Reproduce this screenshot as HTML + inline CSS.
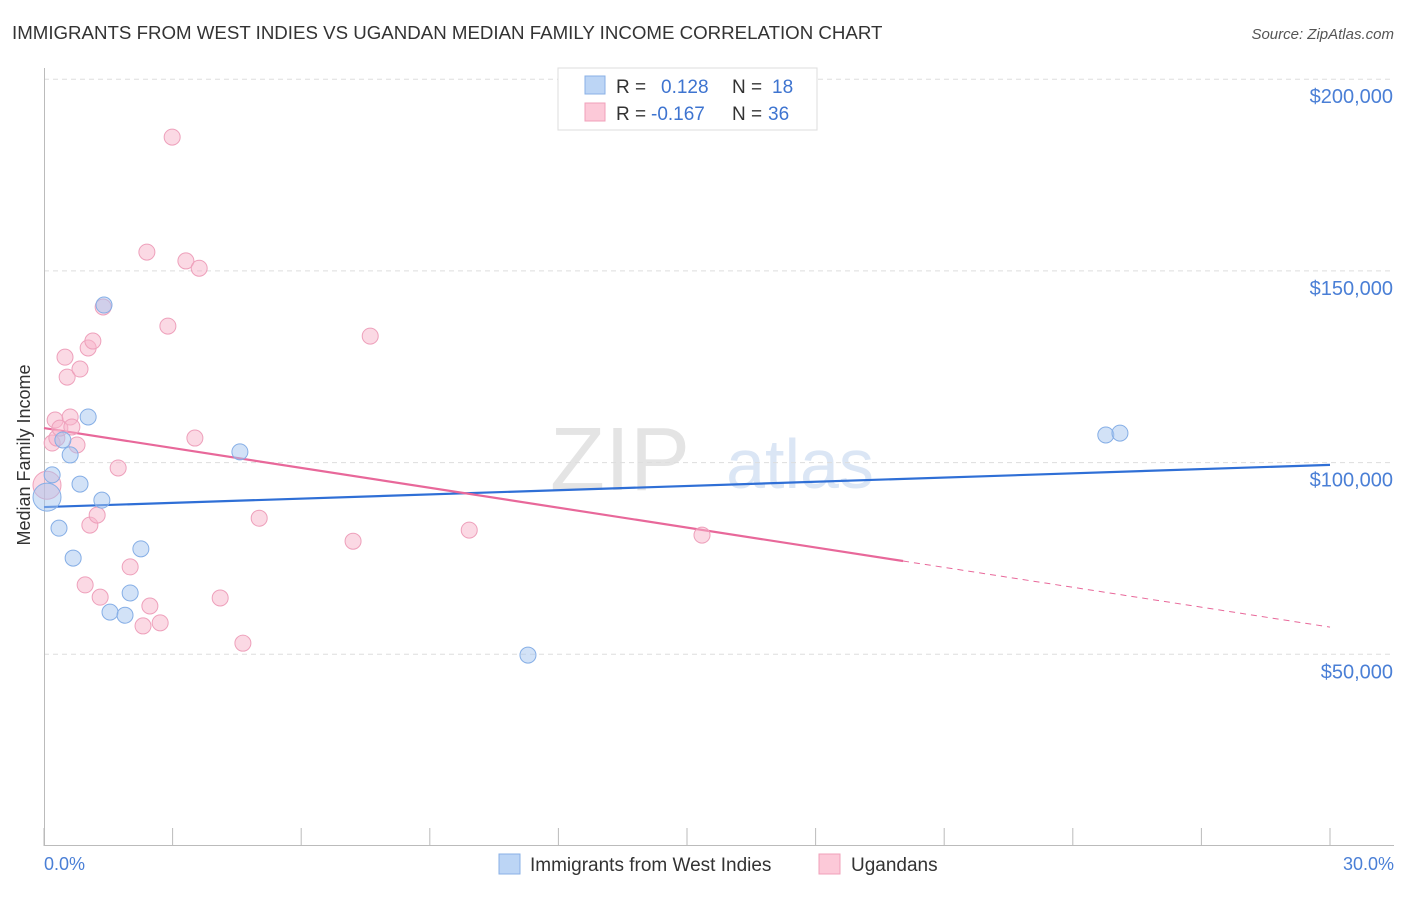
<!DOCTYPE html>
<html><head><meta charset="utf-8"><style>
body{margin:0;background:#fff;font-family:"Liberation Sans",sans-serif;}
svg text{font-family:"Liberation Sans",sans-serif;}
</style></head><body>
<svg id="chart" width="1406" height="892" viewBox="0 0 1406 892">
<text x="12" y="39" font-size="18.7" fill="#333">IMMIGRANTS FROM WEST INDIES VS UGANDAN MEDIAN FAMILY INCOME CORRELATION CHART</text>
<text x="1394" y="39" font-size="15" fill="#555" text-anchor="end" font-style="italic">Source: ZipAtlas.com</text>
<text x="620" y="490" font-size="90" fill="#e4e4e4" font-family="Liberation Serif" text-anchor="middle">ZIP</text>
<text x="800" y="488" font-size="70" fill="#dbe6f5" text-anchor="middle">atlas</text>
<g id="grid"></g>
<g id="axes"></g>
<g id="lines"></g>
<g id="points"></g>
<text x="30" y="455" font-size="18" fill="#333" text-anchor="middle" transform="rotate(-90 30 455)">Median Family Income</text>
<text x="44" y="870" font-size="18" fill="#4a7fd6">0.0%</text>
<text x="1394" y="870" font-size="18" fill="#4a7fd6" text-anchor="end">30.0%</text>
<g>
<rect x="558" y="68" width="259" height="62" fill="#fff" stroke="#ddd"/>
<rect x="585" y="76" width="20" height="18" fill="#bcd5f5" stroke="#8ab0e6"/>
<rect x="585" y="103" width="20" height="18" fill="#fcc9d8" stroke="#f0a0ba"/>
<text x="616" y="93" font-size="19" fill="#333">R =</text>
<text x="661" y="93" font-size="19" fill="#3e74d0">0.128</text>
<text x="732" y="93" font-size="19" fill="#333">N =</text>
<text x="772" y="93" font-size="19" fill="#3e74d0">18</text>
<text x="616" y="120" font-size="19" fill="#333">R =</text>
<text x="651" y="120" font-size="19" fill="#3e74d0">-0.167</text>
<text x="732" y="120" font-size="19" fill="#333">N =</text>
<text x="768" y="120" font-size="19" fill="#3e74d0">36</text>
</g>
<g>
<rect x="499" y="854" width="21" height="20" fill="#bcd5f5" stroke="#8ab0e6"/>
<text x="530" y="871" font-size="19" fill="#333">Immigrants from West Indies</text>
<rect x="819" y="854" width="21" height="20" fill="#fcc9d8" stroke="#f0a0ba"/>
<text x="851" y="871" font-size="19" fill="#333">Ugandans</text>
</g>
</svg>
<script>
const yTicks=[50000,100000,150000,200000];
const yTickLabels=["$50,000","$100,000","$150,000","$200,000"];
const xTicks=[0,3,6,9,12,15,18,21,24,27,30];
const blueX=[0.07,0.19,0.35,0.44,0.61,0.68,0.84,1.03,1.35,1.40,1.54,1.89,2.01,2.26,4.57,11.29,24.77,25.10];
const blueY=[91000,96800,82900,105900,102000,75100,94400,111900,90200,141100,61000,60200,66000,77500,102800,49800,107200,107700];
const pinkX=[0.07,0.19,0.26,0.30,0.37,0.49,0.54,0.61,0.65,0.77,0.84,0.96,1.03,1.07,1.14,1.24,1.31,1.38,1.73,2.01,2.40,2.47,2.31,2.71,2.89,2.99,3.31,3.52,3.62,4.11,4.64,5.02,7.21,7.61,9.92,15.35];
const pinkY=[94100,105100,111100,106400,109000,127500,122300,111900,109300,104600,124400,68100,129900,83700,131700,86300,64900,140600,98600,72800,154900,62600,57400,58200,135600,184900,152600,106400,150700,64700,52900,85500,79500,133000,82400,81100];
const blueTrend=[88400,99400];
const pinkTrend=[109000,57100];
const pinkSolidEnd=20.04;
const NS="http://www.w3.org/2000/svg";
const xs=v=>44+v/30*1286;
const ys=v=>846-v/50000*191.7;
function mk(tag,attrs,parent){const e=document.createElementNS(NS,tag);for(const k in attrs)e.setAttribute(k,attrs[k]);document.getElementById(parent).appendChild(e);return e;}
yTicks.forEach((t,i)=>{
 const l=mk('line',{x1:44,x2:1394,y1:ys(t),y2:ys(t),stroke:'#ddd','stroke-dasharray':'5,4'},'grid');
 
 
 const tx=mk('text',{x:1393,y:ys(t)+24,'font-size':20,fill:'#4a7fd6','text-anchor':'end'},'grid');
 tx.textContent=yTickLabels[i];
 
 
});
const ax=mk('line',{x1:44,x2:1394,y1:845.5,y2:845.5,stroke:'#bbb'},'axes');


const ay=mk('line',{x1:44.5,x2:44.5,y1:68,y2:846,stroke:'#bbb'},'axes');


xTicks.forEach(t=>{
 const l=mk('line',{x1:xs(t),x2:xs(t),y1:828,y2:846,stroke:'#bbb'},'axes');
 
 
});
const bl=mk('line',{x1:xs(0),y1:ys(blueTrend[0]),x2:xs(30),y2:ys(blueTrend[1]),stroke:'#2f6fd6','stroke-width':2.2},'lines');


const pAt=x=>pinkTrend[0]+(pinkTrend[1]-pinkTrend[0])*x/30;
const pl=mk('line',{x1:xs(0),y1:ys(pinkTrend[0]),x2:xs(pinkSolidEnd),y2:ys(pAt(pinkSolidEnd)),stroke:'#e8689a','stroke-width':2.2},'lines');


const pd=mk('line',{x1:xs(pinkSolidEnd),y1:ys(pAt(pinkSolidEnd)),x2:xs(30),y2:ys(pinkTrend[1]),stroke:'#e8689a','stroke-width':1,'stroke-dasharray':'6,5'},'lines');


function pts(X,Y,fill,stroke,name){
 X.forEach((x,i)=>{
  const big=(i===0);
  const c=mk('circle',{cx:xs(x),cy:ys(Y[i]),r:big?14:8,fill:fill,'fill-opacity':0.5,stroke:stroke,'stroke-width':1},'points');
  
  
 });
}
pts(pinkX,pinkY,'#f8b4ca','#eea0bb','ugandans-point');
pts(blueX,blueY,'#a6c6f0','#85aee6','west-indies-point');
</script>
</body></html>
